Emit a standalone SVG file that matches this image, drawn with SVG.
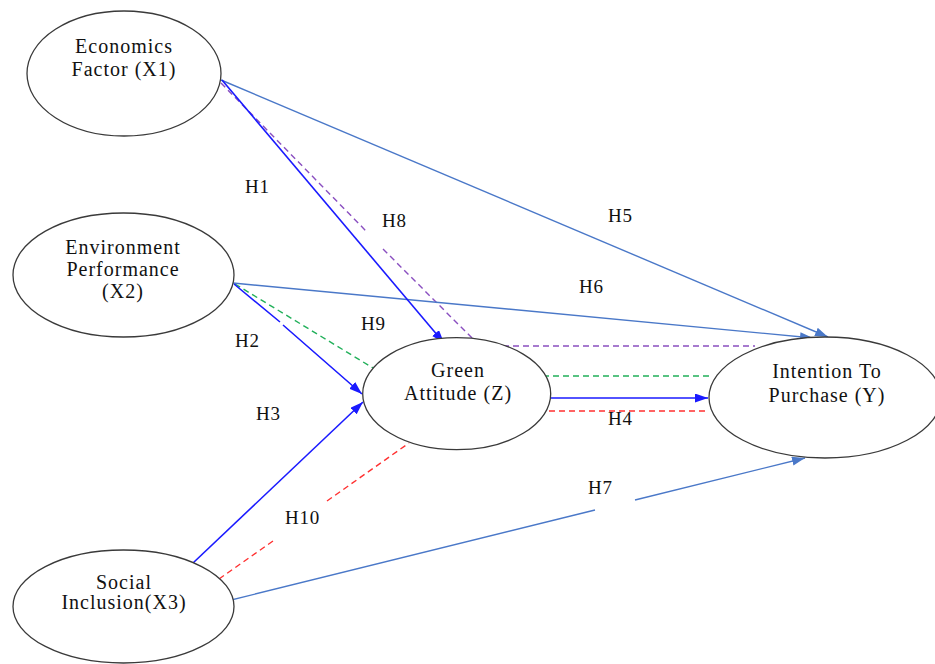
<svg xmlns="http://www.w3.org/2000/svg" width="935" height="664" viewBox="0 0 935 664">
<style>
.node{fill:#fff;stroke:#3a3a3a;stroke-width:1.3}
.nt{font-family:'Liberation Serif','DejaVu Serif','Times New Roman',serif;font-size:20px;letter-spacing:1px;fill:#111;text-anchor:middle}
.lb{font-family:'Liberation Serif','DejaVu Serif','Times New Roman',serif;font-size:19px;letter-spacing:0.8px;fill:#111}
.blue{stroke:#1a1aff;stroke-width:1.6;fill:none}
.lblue{stroke:#4a78c8;stroke-width:1.4;fill:none}
.purple{stroke:#8a4fc0;stroke-width:1.4;fill:none;stroke-dasharray:6 4}
.green{stroke:#22b05a;stroke-width:1.4;fill:none;stroke-dasharray:6 4}
.red{stroke:#ff3030;stroke-width:1.4;fill:none;stroke-dasharray:6 4}
</style>
<defs>
<marker id="ab" markerUnits="userSpaceOnUse" markerWidth="14" markerHeight="10" refX="13" refY="4.5" orient="auto"><path d="M0,0 L13,4.5 L0,9 z" fill="#1a1aff"/></marker>
<marker id="al" markerUnits="userSpaceOnUse" markerWidth="14" markerHeight="10" refX="13" refY="4.5" orient="auto"><path d="M0,0 L13,4.5 L0,9 z" fill="#4a78c8"/></marker>
</defs>
<rect width="935" height="664" fill="#fff"/>
<g id="connectors">
<path class="purple" d="M221,83 L366,231 M383,249 L480,346"/>
<path class="purple" d="M483,346 L755,346"/>
<path class="green" d="M235,284 L373,368"/>
<path class="green" d="M543,376 L709,376"/>
<path class="red" d="M549,411 L709,411"/>
<path class="red" d="M219,579 L273,541 M327,501 L409,443"/>
<path class="lblue" d="M221,80 L828,337" marker-end="url(#al)"/>
<path class="lblue" d="M233,283 L813,338" marker-end="url(#al)"/>
<path class="lblue" d="M219,603 L595,510"/>
<path class="lblue" d="M635,500 L805,458" marker-end="url(#al)"/>
<path class="blue" d="M222,80 L444,343" marker-end="url(#ab)"/>
<path class="blue" d="M234,284 L280,322 M283,325 L362,394" marker-end="url(#ab)"/>
<path class="blue" d="M193,563 L363,402" marker-end="url(#ab)"/>
<path class="blue" d="M551,398 L708,398" marker-end="url(#ab)"/>
</g>
<g id="labels">
<text class="lb" x="245" y="193">H1</text>
<text class="lb" x="382" y="227">H8</text>
<text class="lb" x="608" y="222">H5</text>
<text class="lb" x="579" y="293">H6</text>
<text class="lb" x="361" y="330">H9</text>
<text class="lb" x="235" y="347">H2</text>
<text class="lb" x="256" y="420">H3</text>
<text class="lb" x="608" y="425">H4</text>
<text class="lb" x="588" y="494">H7</text>
<text class="lb" x="285" y="524">H10</text>
</g>
<g id="X1">
<ellipse class="node" cx="124" cy="73.5" rx="97" ry="62.5"/>
<text class="nt" x="124" y="53">Economics</text>
<text class="nt" x="124" y="76">Factor (X1)</text>
</g>
<g id="X2">
<ellipse class="node" cx="123.5" cy="275" rx="110.5" ry="62"/>
<text class="nt" x="123" y="254">Environment</text>
<text class="nt" x="123" y="276">Performance</text>
<text class="nt" x="123" y="298">(X2)</text>
</g>
<g id="X3">
<ellipse class="node" cx="123.5" cy="606.5" rx="110.5" ry="56.5"/>
<text class="nt" x="124" y="589">Social</text>
<text class="nt" x="124" y="609">Inclusion(X3)</text>
</g>
<g id="Z">
<ellipse class="node" cx="456.7" cy="393.7" rx="94" ry="56"/>
<text class="nt" x="458" y="377">Green</text>
<text class="nt" x="458" y="400">Attitude (Z)</text>
</g>
<g id="Y">
<ellipse class="node" cx="825" cy="397.5" rx="116" ry="60.5"/>
<text class="nt" x="827" y="378">Intention To</text>
<text class="nt" x="827" y="402">Purchase (Y)</text>
</g>
</svg>
